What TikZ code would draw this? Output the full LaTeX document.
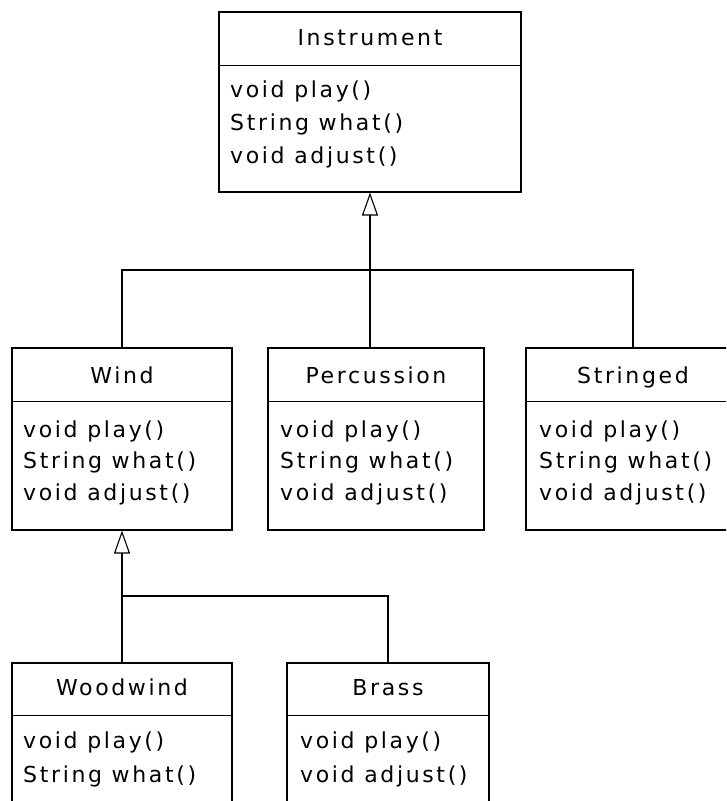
\documentclass[tikz,border=0pt]{standalone}
\usepackage{fontspec}
\newfontfamily\umlfont[LetterSpace=12]{DejaVu Sans}
\usetikzlibrary{arrows.meta}
\begin{document}
\begin{tikzpicture}[x=1pt,y=-1pt]
\tikzset{
  cbox/.style={draw=black, line width=1.1pt, inner sep=0pt, rectangle},
  ttl/.style={anchor=base, inner sep=0pt, font=\umlfont\fontsize{22}{22}\selectfont},
  mth/.style={anchor=base west, inner sep=0pt, font=\umlfont\fontsize{22}{22}\selectfont},
  conn/.style={draw=black, line width=1.1pt},
  gen/.style={conn, -{Triangle[open, length=23pt, width=16pt, line width=1.1pt]}}
}
\useasboundingbox (0,0) rectangle (726,801);
\fill[white] (0,0) rectangle (726,801);
\clip (0,0) rectangle (726,801);

% Instrument
\node[cbox, minimum width=302pt, minimum height=180pt] (instr) at (370,102) {};
\draw[conn] ([yshift=-54pt]instr.north west) -- ([yshift=-54pt]instr.north east);
\node[ttl] (instrT) at (370,45) {Instrument};
\node[mth] (instrA) at (230,97) {void play()};
\node[mth] (instrB) at (230,130) {String what()};
\node[mth] (instrC) at (230,163) {void adjust()};

% Wind
\node[cbox, minimum width=220pt, minimum height=182pt] (wind) at (122,439) {};
\draw[conn] ([yshift=-54pt]wind.north west) -- ([yshift=-54pt]wind.north east);
\node[ttl] (windT) at (122,383) {Wind};
\node[mth] (windA) at (23,437) {void play()};
\node[mth] (windB) at (23,468) {String what()};
\node[mth] (windC) at (23,500) {void adjust()};

% Percussion
\node[cbox, minimum width=216pt, minimum height=182pt] (perc) at (376,439) {};
\draw[conn] ([yshift=-54pt]perc.north west) -- ([yshift=-54pt]perc.north east);
\node[ttl] (percT) at (376,383) {Percussion};
\node[mth] (percA) at (280,437) {void play()};
\node[mth] (percB) at (280,468) {String what()};
\node[mth] (percC) at (280,500) {void adjust()};

% Stringed
\node[cbox, minimum width=214pt, minimum height=182pt] (strg) at (633,439) {};
\draw[conn] ([yshift=-54pt]strg.north west) -- ([yshift=-54pt]strg.north east);
\node[ttl] (strgT) at (633,383) {Stringed};
\node[mth] (strgA) at (539,437) {void play()};
\node[mth] (strgB) at (539,468) {String what()};
\node[mth] (strgC) at (539,500) {void adjust()};

% Woodwind
\node[cbox, minimum width=220pt, minimum height=180pt] (wood) at (122,753) {};
\draw[conn] ([yshift=-53pt]wood.north west) -- ([yshift=-53pt]wood.north east);
\node[ttl] (woodT) at (122,695) {Woodwind};
\node[mth] (woodA) at (23,748) {void play()};
\node[mth] (woodB) at (23,782) {String what()};

% Brass
\node[cbox, minimum width=202pt, minimum height=180pt] (brass) at (388,753) {};
\draw[conn] ([yshift=-53pt]brass.north west) -- ([yshift=-53pt]brass.north east);
\node[ttl] (brassT) at (388,695) {Brass};
\node[mth] (brassA) at (300,748) {void play()};
\node[mth] (brassB) at (300,782) {void adjust()};

% connectors, first level
\coordinate (j1) at (370,270);
\draw[gen] (j1) -- (instr.south);
\draw[conn] (wind.north) |- (j1);
\draw[conn] (strg.north) |- (j1);
\draw[conn] (j1) -- (j1 |- perc.north);

% connectors, second level
\coordinate (j2) at (122,596);
\draw[gen] (j2) -- (wind.south);
\draw[conn] (wood.north) -- (j2);
\draw[conn] (brass.north) |- (j2);
\end{tikzpicture}
\end{document}
